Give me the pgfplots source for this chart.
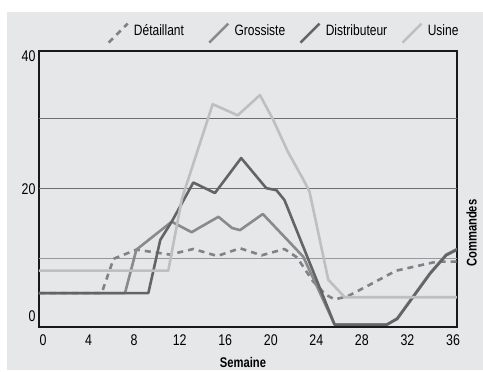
\documentclass[border=0pt]{standalone}
\usepackage{pgfplots}
\pgfplotsset{compat=1.18}
\usepackage{fontspec}
\setmainfont{Liberation Sans}[FakeStretch=0.8]
\definecolor{bg}{HTML}{E6E7E8}
\definecolor{cUsine}{HTML}{BDBFC1}
\definecolor{cDist}{HTML}{636466}
\definecolor{cGros}{HTML}{888A8C}
\definecolor{cDet}{HTML}{808285}
\definecolor{gridd}{HTML}{6D6E71}
\definecolor{gridl}{HTML}{97989B}
\begin{document}
\begin{tikzpicture}
\fill[white] (-39pt,-43pt) rectangle (444pt,327pt);
\fill[bg] (-32pt,-43pt) rectangle (444pt,315pt);
\begin{axis}[
  scale only axis, width=418pt, height=276pt,
  at={(0,0)}, anchor=south west,
  xmin=-0.35, xmax=36.35, ymin=0.25, ymax=39.7,
  xtick={0,4,...,36},
  ytick={1.8,20,39},
  yticklabels={0,20,40},
  major tick length=0pt,
  axis line style={line width=1.6pt, color=black!90},
  /pgf/number format/assume math mode=true,
  tick label style={font=\fontsize{15.5pt}{18pt}\selectfont},
  xticklabel style={yshift=-4pt},
  extra y ticks={20,30}, extra y tick labels={},
  extra y tick style={grid=major, major grid style={gridd, line width=0.9pt}},
  xlabel={\textbf{Semaine}},
  xlabel style={at={(axis description cs:0.488,-0.13)}, anchor=center, font=\fontsize{14pt}{16pt}\selectfont},
  ylabel={\textbf{Commandes}},
  ylabel style={at={(axis description cs:1.035,0.34)}, anchor=center, font=\fontsize{14pt}{16pt}\selectfont},
  legend columns=4,
  legend image code/.code={\draw[#1] (0pt,-12pt) -- (19pt,7pt);},
  legend style={draw=none, fill=none, inner sep=0pt,
    at={(axis description cs:0.163,1.025)}, anchor=south west,
    font=\fontsize{15pt}{18pt}\selectfont,
    /tikz/every odd column/.append style={column sep=3pt},
    /tikz/every even column/.append style={column sep=12pt}},
  every axis plot/.append style={line width=2.6pt, line join=round},
]
\draw[gridl, line width=1.4pt] (axis cs:-0.35,10) -- (axis cs:36.35,10);
\addplot[cDet, dash pattern=on 6pt off 5pt] coordinates {
(-0.35,5.1) (5.15,5.1) (6.2,10.0) (8.2,11.3) (11.15,10.6) (13.2,11.4) (15.3,10.4) (17.3,11.5) (19.2,10.5) (21.2,11.4) (22.3,10.2) (23.7,6.8) (24.8,4.9) (25.6,4.2) (26.7,4.6) (28.7,6.3) (31,8.3) (34.6,9.6) (36.35,9.6)};
\addlegendentry{Détaillant\rule{10pt}{0pt}}
\addplot[cGros] coordinates {
(-0.35,5.1) (7.2,5.1) (8.2,11.3) (11.3,15.3) (13.05,13.8) (15.4,16.0) (16.6,14.4) (17.3,14.1) (19.3,16.4) (22.85,10.3) (25.6,0.6) (30.2,0.6) (31.1,1.5) (34,8) (35.4,10.6) (36.35,11.4)};
\addlegendentry{Grossiste}
\addplot[cDist] coordinates {
(-0.35,5.1) (9.25,5.1) (10.3,12.7) (11.3,15.3) (13.2,20.9) (15.1,19.4) (17.4,24.4) (19.6,20.1) (20.5,19.8) (21.2,18.4) (25.6,0.6) (30.2,0.6) (31.1,1.4) (34,7.9) (35.4,10.5) (36.35,11.3)};
\addlegendentry{Distributeur}
\addplot[cUsine] coordinates {
(-0.35,8.3) (11.0,8.3) (12.2,18.6) (14.9,32.1) (17.1,30.5) (19.05,33.4) (20.2,29.9) (21.5,25.3) (22.8,21.5) (23.4,19.6) (25.05,7.0) (26.5,4.5) (36.35,4.5)};
\addlegendentry{Usine}
\end{axis}
\end{tikzpicture}
\end{document}
